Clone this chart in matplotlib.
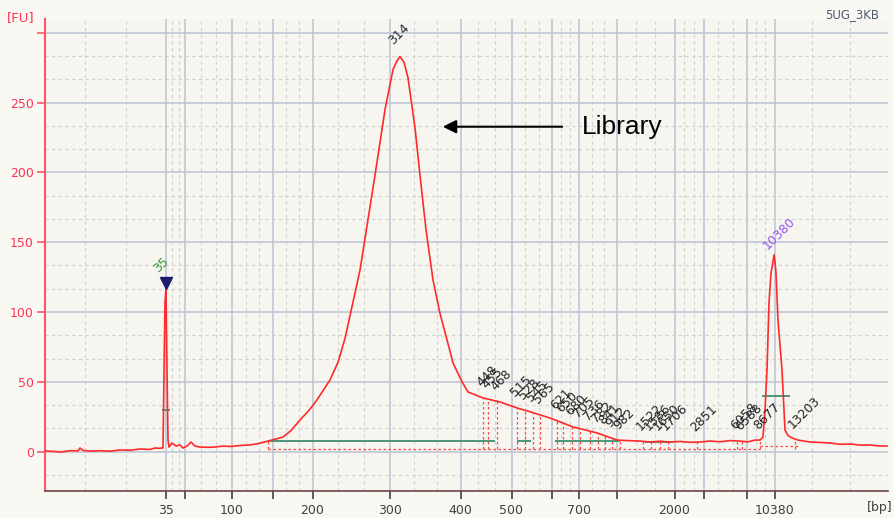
import matplotlib
matplotlib.use("Agg")
import matplotlib.pyplot as plt
import numpy as np

# ladder sizes (bp) and their migration times (s)
ladder_bp = [35, 50, 100, 150, 200, 300, 400, 500, 600, 700, 1000, 2000, 3000, 7000, 10380]
ladder_time = [52.1, 54.0, 58.7, 62.75, 66.75, 74.5, 81.55, 86.65, 90.7, 93.4, 97.2, 102.95, 105.9, 110.2, 112.95]
labeled_bp = [35, 100, 200, 300, 400, 500, 700, 2000, 10380]

# electropherogram trace
trace_time = [40.0, 41.0, 41.5, 42.5, 43.3, 43.5, 43.8, 44.5, 45.5, 46.5, 47.5, 48.5, 49.5, 50.5,
              51.0, 51.5, 51.7, 51.8, 51.9, 52.0, 52.1, 52.2, 52.3, 52.4, 52.7, 53.1, 53.5, 53.8,
              54.2, 54.6, 55.0, 55.5, 56.3, 57.0, 57.8, 58.5, 59.5, 60.5, 61.4, 62.3, 63.0, 63.8,
              64.6, 65.5, 66.4, 67.2, 68.5, 69.3, 70.0, 71.5, 73.0, 74.0, 74.8, 75.2, 75.5, 75.9, 76.3,
              77.0, 77.5, 78.1, 78.8, 79.5, 80.2, 80.8, 81.7, 82.3, 83.8, 85.5, 87.3, 88.5, 90.5,
              91.6, 92.8, 94.0, 95.2, 96.2, 97.2, 98.3, 99.5, 100.5, 101.5, 102.5, 103.5, 104.5,
              105.5, 106.5, 107.5, 108.5, 109.5, 110.3, 111.0, 111.5, 111.8, 112.0, 112.2, 112.4,
              112.6, 112.8, 112.9, 113.0, 113.1, 113.3, 113.7, 114.0, 114.3, 114.7, 115.3, 116.5,
              117.5, 118.5, 119.5, 120.5, 121.5, 122.5, 123.4, 124.2]
trace_fu = [0.4, 0.0, -0.4, 0.6, 0.5, 2.5, 0.8, 0.3, 0.6, 0.2, 1.1, 0.9, 1.8, 1.5,
            2.5, 2.3, 2.6, 2.5, 57.0, 106.5, 117.0, 58.5, 8.2, 3.2, 6.1, 3.9, 4.7, 2.5,
            3.9, 6.8, 3.9, 3.2, 3.0, 3.2, 3.9, 3.6, 4.3, 4.7, 5.8, 7.5, 8.8, 10.4,
            15.0, 22.6, 29.5, 37.0, 51.3, 64.0, 81.0, 130.0, 198.0, 245.0, 273.7, 280.0, 283.0, 279.0, 268.0,
            232.0, 198.0, 159.0, 123.0, 99.0, 80.0, 63.5, 50.0, 42.7, 38.4, 35.5, 31.0, 28.5, 24.0,
            21.0, 17.6, 15.5, 13.3, 10.8, 8.2, 7.8, 7.5, 6.8, 7.4, 6.8, 7.2, 6.6,
            6.8, 7.5, 7.0, 7.8, 7.5, 6.9, 8.2, 8.2, 10.4, 30.0, 58.5, 106.5,
            128.0, 136.0, 141.0, 136.0, 128.0, 94.0, 58.5, 15.4, 11.5, 9.7, 8.2, 6.8,
            6.5, 6.1, 5.2, 5.4, 4.6, 4.7, 4.0, 3.9]

# small called peaks
peak_time = [83.8, 84.3, 85.2, 87.2, 88.0, 88.8, 89.5, 91.2, 91.8, 92.7, 93.5, 94.5, 95.3,
             96.0, 96.7, 97.5, 99.8, 100.6, 101.5, 102.3, 105.2, 109.2, 109.7, 111.5, 115.0]
peak_label = ["448", "455", "468", "515", "528", "545", "565", "621", "650", "680", "705", "736", "782",
              "841", "912", "982", "1522", "1586", "1650", "1706", "2851", "6058", "6588", "8677", "13203"]

# smear region baselines (start, end, level)
green_segments = [(51.7, 52.5, 29.8), (62.3, 85.0, 7.5), (87.2, 88.6, 7.5), (91.0, 97.5, 7.5),
                  (100.0, 102.8, 6.8), (111.7, 114.5, 39.8)]
red_baselines = [(62.3, 111.5, 1.8), (111.5, 115.5, 4.0)]

x_lo, x_hi = 40.0, 124.3
y_lo, y_hi = -28.3, 310.0

fig = plt.figure(figsize=(8.94, 5.18), dpi=100, facecolor="#f9f8f3")
ax = fig.add_axes([45 / 894, 27 / 518, 843 / 894, 472 / 518])
ax.set_facecolor("#f6f5ef")
ax.set_xlim(x_lo, x_hi)
ax.set_ylim(y_lo, y_hi)

# grid: solid majors, dashed minors at thirds
edges = [x_lo] + ladder_time + [x_hi]
for a, b in zip(edges[:-1], edges[1:]):
    for f in (1 / 3, 2 / 3):
        ax.axvline(a + (b - a) * f, color="#d0d0d0", lw=0.8, ls=(0, (3, 3)), zorder=0)
for t in ladder_time:
    ax.axvline(t, color="#bfc7d6", lw=1.2, zorder=0.5)
for k in range(-1, 19):
    v = k * 50 / 3
    if k % 3 != 0:
        ax.axhline(v, color="#d0d0d0", lw=0.8, ls=(0, (3, 3)), zorder=0)
for v in range(0, 301, 50):
    ax.axhline(v, color="#bfc7d6", lw=1.2, zorder=0.5)

# region markings
for a, b, lvl in green_segments:
    ax.hlines(lvl, a, b, colors="#3f8f6f", lw=1.3, zorder=2)
for a, b, lvl in red_baselines:
    ax.hlines(lvl, a, b, colors="#ff4545", lw=0.9, linestyles=(0, (2, 2)), zorder=2)
tops = np.interp(peak_time, trace_time, trace_fu)
ax.vlines(peak_time, 1.8, tops, colors="#ff4545", lw=0.9, linestyles=(0, (2, 2)), zorder=2)
ax.vlines([62.3], 1.8, 7.5, colors="#ff4545", lw=0.9, linestyles=(0, (2, 2)), zorder=2)

ax.plot(trace_time, trace_fu, color="#ff2a2a", lw=1.2, zorder=3)

for t, top, lab in zip(peak_time, tops, peak_label):
    ax.text(t, top + 6, lab, rotation=45, ha="left", va="bottom", rotation_mode="anchor",
            fontsize=9, color="#222222", zorder=4)

ax.text(75.0, 289.5, "314", rotation=45, ha="left", va="bottom", rotation_mode="anchor",
        fontsize=9, color="#222a36", zorder=4)
ax.text(51.5, 126.5, "35", rotation=45, ha="left", va="bottom", rotation_mode="anchor",
        fontsize=9, color="#3a9a3a", zorder=4)
ax.plot(52.1, 121, marker="v", color="#1c1c6c", ms=9, zorder=5)
ax.text(112.5, 143, "10380", rotation=45, ha="left", va="bottom", rotation_mode="anchor",
        fontsize=9, color="#9955ee", zorder=4)

ax.annotate("", xy=(79.5, 232.8), xytext=(92.0, 232.8),
            arrowprops=dict(arrowstyle="-|>", color="black", lw=1.5, mutation_scale=20))
ax.text(93.7, 232.8, "Library", ha="left", va="center", fontsize=19,
        family="Liberation Sans", color="black")

# axes styling
for side in ("top", "right"):
    ax.spines[side].set_visible(False)
ax.spines["left"].set_color("#ff5566")
ax.spines["left"].set_linewidth(1.5)
ax.spines["bottom"].set_color("#6b4545")
ax.spines["bottom"].set_linewidth(1.2)

ax.set_xticks(ladder_time)
ax.set_xticklabels([str(b) if b in labeled_bp else "" for b in ladder_bp])
ax.tick_params(axis="x", direction="out", length=6, width=1.2, color="#404040",
               labelcolor="#404040", labelsize=9, pad=3)
yt = list(range(0, 301, 50))
ax.set_yticks(yt)
ax.set_yticklabels([str(v) if v < 300 else "" for v in yt])
ax.tick_params(axis="y", direction="out", length=6, width=1.2, color="#ff5566",
               labelcolor="#ff3355", labelsize=9, pad=2)

fig.text(21 / 894, 1 - 18 / 518, "[FU]", ha="center", va="center", fontsize=9.5, color="#ff3355")
fig.text(852 / 894, 1 - 15 / 518, "5UG_3KB", ha="center", va="center", fontsize=8.5, color="#505a70")
fig.text(892 / 894, 1 - 508 / 518, "[bp]", ha="right", va="center", fontsize=9, color="#404040")

fig.savefig("out.png", dpi=100, facecolor=fig.get_facecolor())
